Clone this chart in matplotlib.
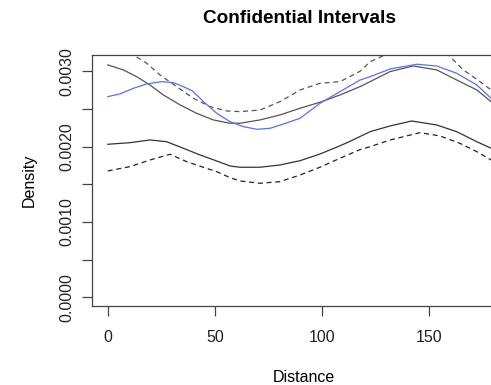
import numpy as np
import matplotlib
matplotlib.use('Agg')
import matplotlib.pyplot as plt

plt.rcParams['font.family'] = ['Liberation Sans', 'DejaVu Sans']
plt.rcParams['font.size'] = 11.5

# observed density (blue)
dist_obs = [0, 5.7, 12, 18.2, 25.2, 30.6, 35.3, 39.5, 44.6, 50.9, 57.1, 63.3, 69.6,
            75.8, 82, 89.8, 99.1, 108.4, 117.8, 122.5, 131.8, 144.3, 153.6, 162.9,
            172.3, 179]
dens_obs = [0.002663, 0.002699, 0.002774, 0.002831, 0.002862, 0.002849, 0.002796,
            0.002740, 0.002600, 0.002442, 0.002331, 0.002265, 0.002230, 0.002243,
            0.002300, 0.002376, 0.002575, 0.002729, 0.002884, 0.002928, 0.003030,
            0.003093, 0.003070, 0.002973, 0.002818, 0.002641]

# upper solid band
dist_up = [0, 7.3, 13.5, 19.7, 26, 33.8, 41.5, 49.3, 57.1, 61.8, 71.1, 80.4, 89.8,
           99.1, 108.4, 117.8, 122.5, 131.8, 142.7, 153.6, 162.9, 172.3, 179]
dens_up = [0.003084, 0.003018, 0.002928, 0.002818, 0.002685, 0.002553, 0.002442,
           0.002354, 0.002310, 0.002310, 0.002354, 0.002420, 0.002509, 0.002589,
           0.002685, 0.002796, 0.002862, 0.002995, 0.003070, 0.003018, 0.002884,
           0.002752, 0.002596]

# lower solid band
dist_lo = [0, 10.4, 19.7, 27.5, 35.3, 43.1, 50.9, 57.1, 61.8, 71.1, 80.4, 89.8,
           99.1, 108.4, 113.1, 122.5, 131.8, 141.9, 153.6, 162.9, 172.3, 179]
dens_lo = [0.002031, 0.002052, 0.002088, 0.002065, 0.001978, 0.001889, 0.001809,
           0.001743, 0.001726, 0.001726, 0.001756, 0.001813, 0.001902, 0.002010,
           0.002070, 0.002198, 0.002274, 0.002340, 0.002287, 0.002198, 0.002065,
           0.001978]

# upper dashed interval
dist_up_ci = [0, 6, 12, 18.2, 24.4, 32.2, 40, 47.8, 55.6, 61.8, 71.1, 80.4, 89.8,
              99.1, 108.4, 113.1, 117.8, 122.5, 129.5, 137, 145, 152, 159, 166,
              173.8, 179]
dens_up_ci = [0.00345, 0.00335, 0.003216, 0.003106, 0.002951, 0.002796, 0.002641,
              0.00253, 0.002473, 0.002464, 0.002486, 0.002596, 0.002752, 0.002840,
              0.002862, 0.00293, 0.00300, 0.003127, 0.003216, 0.0033, 0.00333,
              0.0033, 0.003216, 0.003018, 0.002862, 0.002752]

# lower dashed interval
dist_lo_ci = [0, 10.4, 19.7, 29.1, 36.9, 44.6, 50.9, 57.1, 61.8, 71.1, 80.4, 89.8,
              99.1, 108.4, 117.8, 122.5, 131.8, 145.8, 155.1, 164.4, 172.3, 179]
dens_lo_ci = [0.001677, 0.001734, 0.001822, 0.001898, 0.0018, 0.001726, 0.001667,
              0.001588, 0.001544, 0.001513, 0.001535, 0.001623, 0.001726, 0.001845,
              0.001960, 0.001999, 0.002088, 0.002185, 0.002141, 0.002044, 0.001933,
              0.001822]

xticks = [0, 50, 100, 150]
yticks = [0.0, 0.0005, 0.0010, 0.0015, 0.0020, 0.0025, 0.0030]
ylabels = ['0.0000', '', '0.0010', '', '0.0020', '', '0.0030']

fig = plt.figure(figsize=(4.91, 3.85), dpi=100)
ax = fig.add_axes([0.1874, 0.2052, 0.8635, 0.652])

ax.plot(dist_up, dens_up, c='#555555', lw=0.9)
ax.plot(dist_lo, dens_lo, c='#333333', lw=0.9)
ax.plot(dist_up_ci, dens_up_ci, c='#555555', lw=0.9, ls=(0, (4, 3)))
ax.plot(dist_lo_ci, dens_lo_ci, c='#222222', lw=0.9, ls=(0, (4, 3)))
ax.plot(dist_obs, dens_obs, c='#5a6ef5', lw=0.9)

ax.set_xlim(-7.33, 190.6)
ax.set_ylim(-0.0001155, 0.003216)
ax.set_xticks(xticks)
ax.set_yticks(yticks)
ax.set_yticklabels(ylabels, rotation=90, va='center')

for s in ax.spines.values():
    s.set_color('#444444')
    s.set_linewidth(0.9)
ax.tick_params(direction='out', length=7, width=0.9, color='#444444',
               labelcolor='#222222')
ax.tick_params(axis='x', pad=10)
ax.tick_params(axis='y', pad=6)

ax.set_xlabel('Distance', labelpad=18)
ax.set_ylabel('Density', labelpad=16)
fig.text(0.61, 0.953, 'Confidential Intervals', ha='center', va='center',
         fontsize=13.7, fontweight='bold')

fig.savefig('out.png', dpi=100)
